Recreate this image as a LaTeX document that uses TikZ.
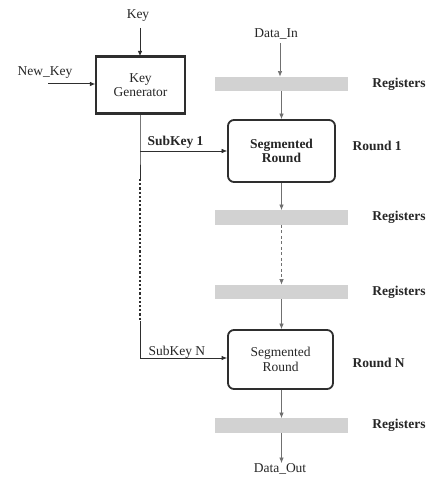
\documentclass[tikz,border=0pt]{standalone}
\usepackage{fontspec}
\setmainfont{Liberation Serif}
\usetikzlibrary{arrows.meta}
\definecolor{regfill}{HTML}{D2D2D2}
\definecolor{linedark}{HTML}{2E2E2E}
\definecolor{linelight}{HTML}{707070}
\begin{document}
\begin{tikzpicture}[x=1pt,y=-1pt,
  every node/.style={font=\fontsize{13.5}{14.5}\selectfont, text=black!85},
  tip/.style={-{Latex[length=5.5pt,width=4.5pt]}},
  genbox/.style={draw=linedark, line width=1.1pt, minimum width=89pt, minimum height=56pt, inner sep=0pt, align=center},
  roundbox/.style={draw=linedark, line width=1.8pt, rounded corners=6pt, minimum width=105pt, minimum height=60pt, inner sep=0pt, align=center},
  regbar/.style={fill=regfill, draw=none, minimum width=133pt, minimum height=14.5pt, inner sep=0pt},
  reglabel/.style={font=\fontsize{13.5}{14.5}\selectfont\bfseries},
  keyline/.style={draw=linedark, line width=1pt},
  dataline/.style={draw=linelight, line width=0.6pt}
]
\useasboundingbox (0,0) rectangle (429,478);

% key schedule side
\node (keylbl) at (138,16) {Key};
\node (newkey) at (45,73) {New\_Key};
\node[genbox] (keygen) at (140.5,85) {Key\\Generator};
\draw[line width=2.6pt, draw=linedark] (keygen.north west) -- (keygen.north east);
\draw[line width=2.6pt, draw=linedark] (keygen.south west) -- (keygen.south east);
\coordinate (nkstart) at (48,84);
\coordinate (keyin) at (140,28);

% data path
\node (datain) at (276,34) {Data\_In};
\node[regbar] (reg1) at (281.5,84) {};
\node[roundbox, minimum width=107pt, minimum height=62pt] (round1) at (281.5,151) {\bfseries Segmented\\\bfseries Round};
\node[regbar] (reg2) at (281.5,217.5) {};
\node[regbar] (reg3) at (281.5,292) {};
\node[roundbox, minimum height=59pt] (roundN) at (280.5,359.5) {Segmented\\Round};
\node[regbar] (reg4) at (281.5,425.5) {};
\node[anchor=north, inner sep=0pt] (dataout) at (280,463) {Data\_Out};

% side labels
\node[reglabel] (rl1) at (399,84) {Registers};
\node[reglabel] (rl2) at (399,217) {Registers};
\node[reglabel] (rl3) at (399,292) {Registers};
\node[reglabel] (rl4) at (399,425) {Registers};
\node[reglabel, anchor=west] (r1lbl) at (349,146) {Round 1};
\node[reglabel, anchor=west] (rNlbl) at (349,363) {Round N};
\node[anchor=west, font=\fontsize{13.5}{14.5}\selectfont\bfseries] (sk1) at (144,142) {SubKey 1};
\node[anchor=west] (skN) at (145,352) {SubKey N};

% key path coordinates
\coordinate (k1) at (140,151);
\coordinate (kd1) at (140,179);
\coordinate (kd2) at (140,321);
\coordinate (kN) at (140,358);

% key connectors
\draw[keyline, tip] (keyin) -- (keyin |- keygen.north);
\draw[keyline, tip] (nkstart) -- (nkstart -| keygen.west);
\draw[keyline] (keygen.south -| k1) -- (k1) -- (kd1);
\draw[keyline, line width=1.2pt, dash pattern=on 2.2pt off 2pt] (kd1) -- (kd2);
\draw[keyline] (kd2) -- (kN);
\draw[dataline, tip, draw=linedark] (k1) -- (k1 -| round1.west);
\draw[keyline, tip, line width=0.8pt] (kN) -- (kN -| roundN.west);

% data connectors
\draw[dataline, tip] ([xshift=4pt]datain.south) -- ([xshift=4pt]datain.south |- reg1.north);
\draw[dataline, tip] (reg1.south -| round1.north) -- (round1.north);
\draw[dataline, tip] (round1.south) -- (round1.south |- reg2.north);
\draw[dataline, tip, dash pattern=on 3pt off 2.5pt] (round1.south |- reg2.south) -- (round1.south |- reg3.north);
\draw[dataline, tip] (round1.south |- reg3.south) -- (round1.south |- roundN.north);
\draw[dataline, tip] (round1.south |- roundN.south) -- (round1.south |- reg4.north);
\draw[dataline, tip] (round1.south |- reg4.south) -- (round1.south |- dataout.north);
\end{tikzpicture}
\end{document}
